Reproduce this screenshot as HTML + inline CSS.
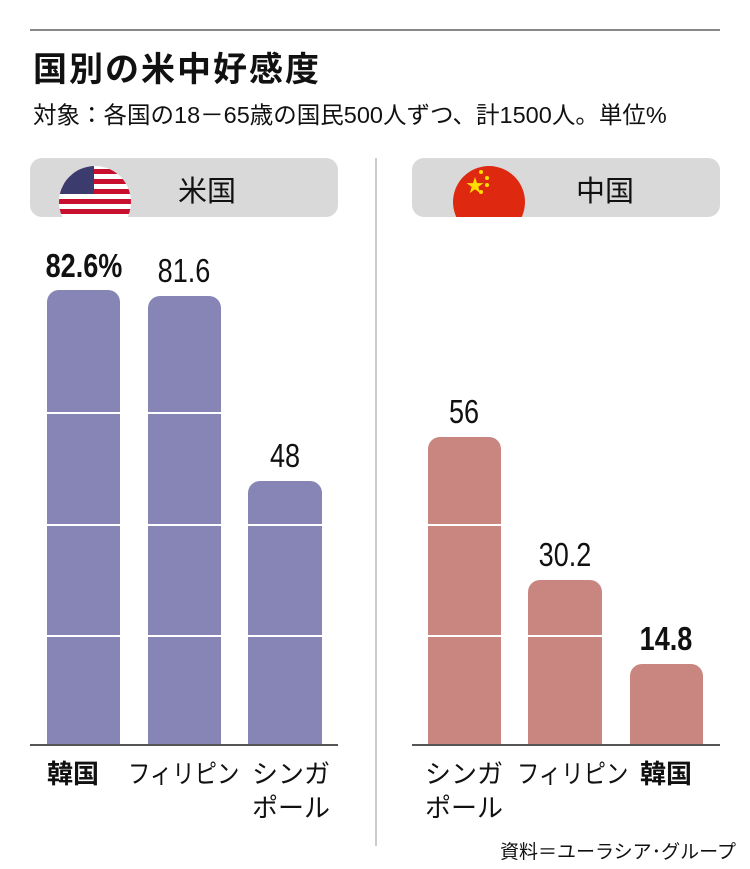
<!DOCTYPE html><html><head><meta charset="utf-8"><style>
body{margin:0;width:750px;height:869px;background:#fff;position:relative;overflow:hidden;font-family:"Liberation Sans","Noto Sans CJK JP",sans-serif;color:#111}
div{position:absolute}
.pill{top:158px;height:59px;width:308px;background:#d9d9d9;border-radius:12px;overflow:hidden}
.bar{border-radius:12px 12px 0 0}
.p{background:#8685b5}.r{background:#c98580}
.v{font-size:33px;text-align:center;width:120px;transform:scaleX(.82)}
.c{font-size:26px;line-height:34px;white-space:nowrap;transform-origin:left top}
.g{height:2px;background:#fff}
</style></head><body>
<div style="left:30px;top:29px;width:690px;height:2px;background:#888"></div>
<div style="left:33px;top:42px;font-size:34px;font-weight:bold;letter-spacing:2px">国別の米中好感度</div>
<div style="left:33px;top:96px;font-size:23.5px">対象：各国の18－65歳の国民500人ずつ、計1500人。単位%</div>
<div class="pill" style="left:30px"><svg style="position:absolute;left:28px;top:7px" width="74" height="52"><defs><clipPath id="c1"><circle cx="37" cy="37" r="36"/></clipPath></defs><g clip-path="url(#c1)"><rect width="74" height="74" fill="#fff"/><g fill="#c8102e"><rect y="4" width="74" height="5"/><rect y="14" width="74" height="5"/><rect y="24" width="74" height="5"/><rect y="34" width="74" height="5"/><rect y="44" width="74" height="5"/></g><rect width="36" height="29" fill="#3c3b6e"/></g></svg><div style="left:148px;top:10px;font-size:29px">米国</div></div>
<div class="pill" style="left:412px"><svg style="position:absolute;left:40px;top:7px" width="74" height="52"><circle cx="37" cy="37" r="36" fill="#de2910"/><text x="14" y="27" font-size="18" fill="#ffde00">★</text><circle cx="29" cy="7" r="2" fill="#ffde00"/><circle cx="35" cy="13" r="2" fill="#ffde00"/><circle cx="35" cy="20" r="2" fill="#ffde00"/><circle cx="29" cy="27" r="2" fill="#ffde00"/></svg><div style="left:164px;top:10px;font-size:29px">中国</div></div>
<div style="left:375px;top:158px;width:2px;height:688px;background:#ccc"></div>
<div class="bar p" style="left:47px;top:290px;width:73px;height:455px"></div>
<div class="bar p" style="left:148px;top:296px;width:73px;height:449px"></div>
<div class="bar p" style="left:248px;top:481px;width:74px;height:264px"></div>
<div class="g" style="left:40px;top:412px;width:290px"></div>
<div class="g" style="left:40px;top:524px;width:290px"></div>
<div class="g" style="left:40px;top:635px;width:290px"></div>
<div class="bar r" style="left:428px;top:437px;width:73px;height:308px"></div>
<div class="bar r" style="left:528px;top:580px;width:74px;height:165px"></div>
<div class="bar r" style="left:630px;top:664px;width:73px;height:81px"></div>
<div class="g" style="left:420px;top:524px;width:290px"></div>
<div class="g" style="left:420px;top:635px;width:290px"></div>
<div style="left:30px;top:744px;width:308px;height:2px;background:#555"></div>
<div style="left:412px;top:744px;width:308px;height:2px;background:#555"></div>
<div class="v" style="left:24px;top:247px;font-weight:bold">82.6%</div>
<div class="v" style="left:124px;top:252px">81.6</div>
<div class="v" style="left:225px;top:437px">48</div>
<div class="v" style="left:404px;top:393px">56</div>
<div class="v" style="left:505px;top:536px">30.2</div>
<div class="v" style="left:606px;top:620px;font-weight:bold">14.8</div>
<div class="c" style="left:47px;top:757px;font-weight:bold">韓国</div>
<div class="c" style="left:128px;top:757px;transform:scaleX(.86)">フィリピン</div>
<div class="c" style="left:252px;top:757px">シンガ<br>ポール</div>
<div class="c" style="left:425px;top:757px">シンガ<br>ポール</div>
<div class="c" style="left:517px;top:757px;transform:scaleX(.86)">フィリピン</div>
<div class="c" style="left:640px;top:757px;font-weight:bold">韓国</div>
<div style="left:500px;top:837px;font-size:19px">資料＝ユーラシア･グループ</div>
</body></html>
